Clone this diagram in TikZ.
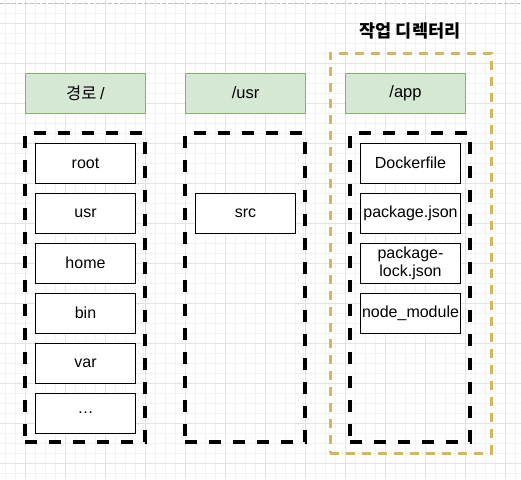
\documentclass[tikz,border=0pt]{standalone}
\usepackage{fontspec}
\setmainfont{Liberation Sans}
\newfontfamily\kr{Noto Sans CJK KR}
\definecolor{gridminor}{HTML}{F2F2F2}
\definecolor{gridmajor}{HTML}{E3E3E3}
\definecolor{hdrfill}{HTML}{D5E8D4}
\definecolor{hdrline}{HTML}{82B366}
\definecolor{workline}{HTML}{D6B656}
\tikzset{
	header/.style={draw=hdrline,fill=hdrfill,line width=1pt,minimum width=120pt,minimum height=40pt,inner sep=0pt,font=\fontsize{16.5}{19}\selectfont},
	entry/.style={draw=black,fill=white,line width=1pt,minimum width=100pt,minimum height=40pt,inner sep=0pt,align=center,font=\fontsize{16}{18}\selectfont},
	group/.style={draw=black,line width=4pt,dash pattern=on 12pt off 12pt,minimum width=120pt,minimum height=309pt,inner sep=0pt},
	workdir/.style={draw=workline,line width=3pt,dash pattern=on 9pt off 7pt,minimum width=161pt,minimum height=400pt,inner sep=0pt}
}

\begin{document}
\begin{tikzpicture}[x=1pt,y=-1pt]
\useasboundingbox (0,0) rectangle (521,479);
\fill[white] (0,0) rectangle (521,479);
% grid
\foreach \x in {5.5,15.5,...,515.5} {
	\draw[gridminor,line width=0.8pt] (\x,0) -- (\x,479);
};
\foreach \y in {3,13,...,473} {
	\draw[gridminor,line width=0.8pt] (0,\y) -- (521,\y);
};
\foreach \x in {25.5,65.5,...,505.5} {
	\draw[gridmajor,line width=1pt] (\x,0) -- (\x,479);
};
\foreach \y in {23,63,...,463} {
	\draw[gridmajor,line width=1pt] (0,\y) -- (521,\y);
};
\draw[gray!50,line width=1pt,dash pattern=on 4pt off 2pt] (0,3.5) -- (521,3.5);

% working directory
\node[workdir] (work) at (410.5,253) {};
\node[font=\kr\bfseries\fontsize{17.5}{20}\selectfont] (worktitle) at (410,31) {작업 디렉터리};

% headers
\node[header] (hroot) at (85.5,93) {\kr 경로 \rmfamily /};
\node[header] (husr) at (245.5,93) {/usr};
\node[header] (happ) at (405.5,93) {/app};

% dashed groups
\node[group] (groot) at (85,287.5) {};
\node[group] (gusr) at (245,287.5) {};
\node[group] (gapp) at (410,287.5) {};

% entries
\foreach \name [count=\i] in {root,usr,home,bin,var,\dots} {
	\node[entry] (root\i) at (85.5,{113+50*\i}) {\name};
};
\node[entry] (usr1) at (245.5,213) {src};
\node[entry] (app1) at (410.5,163) {Dockerfile};
\node[entry] (app2) at (410.5,213) {package.json};
\node[entry] (app3) at (410.5,263) {package-\\lock.json};
\node[entry] (app4) at (410.5,313) {node\_module};

\end{tikzpicture}
\end{document}
